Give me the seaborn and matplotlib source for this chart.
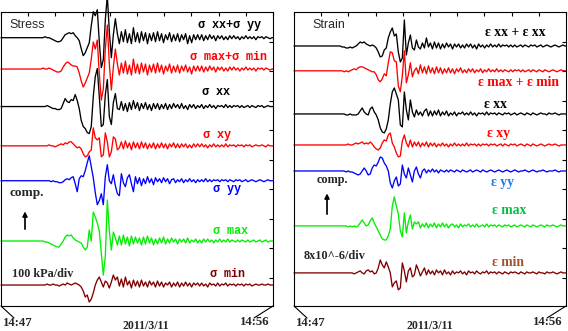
import numpy as np
import pandas as pd
import matplotlib
matplotlib.use("Agg")
import matplotlib.pyplot as plt
import seaborn as sns
from matplotlib.lines import Line2D

sns.set_style("white")
plt.rcParams["font.family"] = ["Liberation Serif", "DejaVu Serif"]

# ---------------- data ----------------
# sample times, minutes after 14:47 on 2011/3/11
minutes = np.r_[0.0, 1.40 + 0.0738 * np.arange(117), 10.0]

# deflections (1 count = 1/29.55 division)
# stress panel: 100 kPa/div
s_xx_yy = [0, 0, 0, 1, 0, 0, -1, -2, -3, -4,
           -4, -3, 0, 3, 4, 5, 4, 5, 2, 0,
           -3, -11, -18, -15, -10, -5, 12, 26, 22, 28,
           -4, -30, -22, 18, 42, 6, -20, 3, 19, 4,
           -6, 6, -4, 8, -5, 4, -6, 10, -4, 5,
           -5, 6, -3, 5, -6, 4, -3, 5, -4, 6,
           -3, 4, -5, 3, -2, 5, -4, 3, -3, 4,
           -4, 3, -2, 4, -6, 2, -5, 3, -2, 3,
           -2, 3, -3, 2, -2, 3, -1, 2, -3, 2,
           -1, 2, -2, 1, -2, 2, -1, 2, -1, 1,
           -2, 1, -1, 2, -1, 1, -1, 1, -2, 1,
           0, 1, -1, 1, 0, -1, 0]
s_max_min = [0, 0, 1, 0, 0, 1, 0, -1, -2, -3,
             -3, -2, 2, 5, 7, 6, 4, 3, 3, 2,
             -4, -12, -18, -14, -9, -4, 10, 27, 20, 29,
             -5, -31, -20, 20, 44, 5, -21, 2, 20, 5,
             -6, 6, -4, 8, -5, 4, -6, 10, -4, 5,
             -5, 6, -3, 5, -6, 4, -3, 5, -4, 6,
             -3, 4, -5, 3, -2, 5, -4, 3, -3, 4,
             -4, 3, -2, 4, -3, 2, -5, 3, -2, 3,
             -2, 3, -3, 2, -2, 3, -1, 2, -3, 2,
             -1, 2, -2, 1, -2, 2, -1, 2, -1, 1,
             -2, 1, -1, 2, -1, 1, -1, 1, -2, 1,
             0, 1, -1, 1, 0, -1, 0]
s_xx = [0, 0, 0, 0, 1, 0, -1, -2, -2, -3,
        -3, -2, 3, 8, 5, 4, 7, 6, 12, 6,
        -2, -14, -20, -22, -26, -27, -20, 10, 30, 38,
        10, -20, -18, 12, 27, -10, -18, 4, 13, -2,
        -3, 5, -4, 3, -5, 4, -3, 6, -2, 4,
        -4, 3, -2, 4, -3, 2, -4, 3, -2, 3,
        -3, 2, -2, 3, -3, 2, -2, 3, -1, 2,
        -2, 3, -2, 1, -3, 2, -1, 2, -2, 1,
        -1, 2, -2, 1, -1, 2, -1, 1, -2, 1,
        0, 1, -1, 2, -1, 1, -1, 1, 0, 1,
        -1, 1, -1, 0, 1, -1, 1, 0, -1, 1,
        0, 1, -1, 0, 1, 0, 0]
s_xy = [0, 0, 0, 0, 0, 1, 0, 0, -1, 0,
        1, 2, 1, 3, 2, 4, 4, 2, 0, -2,
        -1, -3, -8, -11, -10, -6, -4, 18, 8, 6,
        8, -11, -9, 13, 4, -11, -6, 9, 7, -4,
        -2, 4, -3, 5, -2, 3, -4, 4, -2, 3,
        -3, 4, -2, 3, -3, 2, -2, 3, -3, 2,
        -2, 3, -2, 2, -3, 2, -1, 3, -2, 2,
        -2, 2, -1, 2, -2, 1, -2, 2, -1, 2,
        -1, 2, -1, 1, -2, 1, -1, 2, -1, 1,
        -1, 1, -1, 2, -1, 1, 0, 1, -1, 1,
        0, 1, -1, 1, 0, 1, -1, 0, 1, 0,
        0, 1, 0, -1, 1, 0, 0]
s_yy = [0, 0, 0, 0, 0, 0, -1, 0, -1, -1,
        -2, -2, -1, 1, 2, 1, 3, 4, -3, -11,
        2, 5, 4, 10, 18, 25, 14, 3, -12, -24,
        -20, -13, -24, 4, 16, 0, -3, 6, -5, -13,
        -15, 7, -2, -6, 3, 6, -3, -11, 4, -3,
        3, -5, 2, -3, 4, -2, 2, -4, 3, -1,
        2, -2, 3, -1, 2, -3, 1, 2, -2, 1,
        -1, 2, -2, 1, -1, 2, -1, 1, -2, 1,
        -1, 1, -1, 2, -1, 1, -1, 1, 0, 1,
        -1, 1, 0, 1, -1, 1, 0, -1, 1, 0,
        1, -1, 0, 1, -1, 0, 1, 0, -1, 0,
        1, 0, -1, 0, 1, 0, 0]
s_max = [0, 0, 0, -1, -1, -2, -3, -4, -5, -6,
         -6, -3, 0, 4, 6, 5, 6, 3, 1, 0,
         -1, -2, -6, -9, -6, 11, 0, 29, 24, 18,
         10, -12, -34, -15, 41, 10, -9, 9, 3, -4,
         5, -4, 6, -3, 4, -5, 5, -3, 4, -2,
         3, -4, 4, -3, 5, -2, 3, -4, 2, -3,
         3, -2, 4, -3, 2, -2, 3, -1, 2, -3,
         2, -1, 2, -2, 3, -2, 1, -1, 2, -2,
         1, -2, 2, -1, 2, -1, 1, -2, 1, -1,
         2, -1, 1, -1, 2, -1, 1, 0, -1, 1,
         -1, 1, 0, -1, 1, -1, 0, 1, -1, 0,
         1, -1, 0, 1, -1, 0, 0]
s_min = [0, 0, 0, 0, 1, 0, 0, 1, 0, 0,
         -1, 0, 1, 0, 2, 1, 0, 1, 2, 1,
         0, -2, -6, -12, -10, -17, -14, -8, 0, 5,
         8, 3, -2, 4, 2, -3, 3, 10, 5, 8,
         -1, 6, -2, 8, 0, 4, -3, 5, -1, 4,
         -2, 5, -1, 3, -2, 4, 0, 3, -2, 4,
         -1, 3, -2, 2, 0, 3, -2, 2, -1, 3,
         -2, 2, -1, 3, -1, 2, -2, 2, 0, 2,
         -1, 2, -1, 1, -2, 2, 0, 1, -1, 2,
         -1, 1, 0, 2, -1, 1, 0, 1, -1, 1,
         0, 1, -1, 1, 0, 1, -1, 0, 1, 0,
         0, 1, 0, 0, 1, 0, 0]

# strain panel: 8x10^-6 /div
e_xx_yy = [0, 0, 0, 0, 0, -1, -1, -2, -2, -1,
           -2, -1, 0, 2, 4, 3, 4, 2, 1, 0,
           1, 0, -2, -6, -11, -10, -4, -2, 8, 14,
           18, 10, 12, -6, -16, -12, 26, -9, 3, 11,
           -2, -4, 6, -1, -3, 3, -2, 8, -1, 3,
           -3, 4, -2, 3, -3, 2, -2, 3, -1, 2,
           -3, 2, -1, 2, -2, 1, -2, 2, -1, 2,
           -2, 1, -3, 2, -1, 1, -2, 1, -1, 2,
           -1, 1, -1, 2, -1, 1, 0, 1, -1, 1,
           -1, 1, -1, 0, 1, -1, 1, 0, -1, 1,
           0, 1, -1, 0, 1, -1, 0, 1, 0, -1,
           0, 1, 0, -1, 0, 1, 0]
e_max_min = [0, 0, 0, 0, 0, 0, -1, 0, -1, 0,
             1, 2, 1, 3, 4, 4, 3, 2, 1, 0,
             -1, -1, -4, -9, -11, -8, -3, -5, 8, 19,
             18, 10, 9, -15, -21, -5, 20, -12, -4, 8,
             -6, 0, 3, -3, 6, -2, 4, -3, 5, -2,
             3, -3, 4, -2, 3, -3, 2, -2, 3, -2,
             2, -3, 2, -1, 3, -2, 1, -2, 2, -1,
             2, -2, 1, -1, 2, -2, 1, -1, 2, -1,
             1, -1, 2, -1, 1, -1, 1, 0, -1, 1,
             -1, 1, 0, 1, -1, 1, -1, 0, 1, -1,
             1, 0, -1, 1, 0, -1, 1, 0, -1, 0,
             1, 0, -1, 0, 1, 0, 0]
e_xx = [0, 0, 0, 0, 0, 0, 0, -1, -1, 0,
        -1, -1, -1, 0, 3, 6, 2, 0, -1, 5,
        7, 2, -1, -6, -14, -18, -19, -15, -6, 10,
        22, 26, 20, 14, -11, -13, 22, 4, -6, 14,
        2, -3, 4, -1, 2, -2, 3, 5, -2, 3,
        -2, 3, -1, 4, -2, 2, -1, 3, -2, 1,
        -1, 2, -2, 1, 0, 2, -1, 1, -1, 2,
        -1, 1, -2, 1, 0, 1, -1, 2, -1, 1,
        0, 1, -1, 1, 0, -1, 1, 0, 1, -1,
        0, 1, -1, 0, 1, 0, -1, 1, 0, -1,
        1, 0, -1, 0, 1, 0, 0, -1, 1, 0,
        0, 1, 0, -1, 0, 0, 0]
e_xy = [0, 0, 0, 0, 0, 0, 0, 0, 1, 0,
        0, 1, 2, 1, 2, 3, 1, 2, 1, 3,
        1, -2, -4, -5, -3, 2, 5, 4, 10, 12,
        2, -2, -8, -12, -11, 4, 10, 2, -2, 5,
        -2, 3, -1, 3, -2, 2, -1, 3, -2, 2,
        -1, 2, -2, 1, -1, 2, -1, 1, -2, 1,
        -1, 2, -1, 1, -1, 1, -1, 2, -1, 1,
        0, 1, -1, 1, -1, 1, 0, 1, -1, 1,
        0, 1, -1, 0, 1, -1, 1, 0, -1, 1,
        0, 1, -1, 0, 1, 0, -1, 1, 0, -1,
        1, 0, -1, 0, 1, 0, -1, 0, 1, 0,
        0, 1, 0, -1, 0, 0, 0]
e_yy = [0, 0, 0, 0, 0, 0, 0, -1, 0, -1,
        -1, -2, -3, -4, -3, 0, 3, 0, -4, -3,
        3, 6, 5, 9, 14, 13, 8, 5, 0, -12,
        -17, -10, -6, -15, -13, 6, -3, -7, 3, -4,
        -11, 0, 4, -3, -7, 0, 2, -2, 1, -1,
        2, -1, 1, -2, 1, 0, -1, 1, -1, 1,
        0, -1, 1, 0, -1, 1, 0, -1, 0, 1,
        -1, 0, 1, 0, -1, 1, 0, -1, 0, 1,
        0, -1, 0, 1, 0, -1, 0, 1, 0, -1,
        0, 1, 0, -1, 0, 0, 1, 0, -1, 0,
        1, 0, -1, 0, 0, 1, 0, -1, 0, 0,
        0, 1, 0, -1, 0, 0, 0]
e_max = [0, 0, 0, 0, 0, 0, 0, 0, -1, 0,
         -1, 0, -1, 0, 3, 6, 3, 0, 1, 5,
         8, 3, -1, -5, -9, -13, -14, -14, -10, -3,
         20, 29, 20, 12, -5, -11, 13, -7, 4, 11,
         -3, 4, 2, 4, -2, 2, -1, 3, -2, 2,
         -1, 3, -2, 2, -1, 3, -1, 2, -2, 1,
         2, -1, 1, -2, 2, -1, 1, 0, 2, -1,
         1, -1, 2, -1, 0, 1, -1, 2, -1, 1,
         0, 1, -1, 1, 0, -1, 1, 0, 1, -1,
         0, 1, -1, 0, 1, 0, -1, 1, 0, -1,
         1, 0, -1, 0, 1, 0, -1, 1, 0, 0,
         1, 0, -1, 0, 1, 0, 0]
e_min = [0, 0, 0, 0, 0, 0, 0, 0, 0, 0,
         0, -1, 0, 1, 2, 0, -1, 2, 3, 1,
         2, -1, 0, 5, 13, 8, 5, 11, 6, 0,
         -14, -10, -8, -17, -15, 10, 2, -9, 2, 5,
         -4, -2, 8, 3, -3, 1, 5, -2, 3, -1,
         2, -2, 3, 0, 2, -2, 3, -1, 1, -2,
         2, -1, 1, 0, 2, -1, 1, -2, 2, 0,
         1, -1, 2, 0, -1, 1, 0, 2, -1, 1,
         0, 1, -1, 1, 0, -1, 1, 0, -1, 1,
         0, 1, 0, -1, 1, 0, -1, 1, 0, 0,
         1, 0, -1, 1, 0, 0, -1, 1, 0, 0,
         1, 0, -1, 0, 1, 0, 0]

stress_names = ["σ xx+σ yy", "σ max+σ min", "σ xx", "σ xy", "σ yy", "σ max", "σ min"]
strain_names = ["ε xx + ε xx", "ε max + ε min", "ε xx", "ε xy", "ε yy", "ε max", "ε min"]
stress_series = [s_xx_yy, s_max_min, s_xx, s_xy, s_yy, s_max, s_min]
strain_series = [e_xx_yy, e_max_min, e_xx, e_xy, e_yy, e_max, e_min]

# ---------------- layout / style ----------------
W, H = 568, 331
COUNT = 1 / 29.55                     # divisions per count
stress_base = [8.13, 7.07, 5.80, 4.47, 3.29, 1.25, -0.24]
strain_base = [7.85, 7.01, 5.55, 4.50, 3.62, 1.76, 0.17]
stress_colors = ["#000000", "#ff0000", "#000000", "#ff0000", "#0000ff", "#00ee00", "#800000"]
strain_colors = ["#000000", "#ff0000", "#000000", "#ff0000", "#0000ff", "#00ee00", "#800000"]

fig = plt.figure(figsize=(W / 100, H / 100), dpi=100)
ax1 = fig.add_axes([1 / W, 25 / H, 272 / W, 294 / H])
ax2 = fig.add_axes([294 / W, 25 / H, 272 / W, 294 / H])


def draw_panel(ax, names, series, bases, colors):
    frames = []
    for name, vals, base in zip(names, series, bases):
        assert len(vals) == len(minutes) - 2, (name, len(vals))
        v = np.r_[0, vals, vals[-1]]
        frames.append(pd.DataFrame({"minutes": minutes, "y": base + v * COUNT, "trace": name}))
    df = pd.concat(frames, ignore_index=True)
    sns.lineplot(data=df, x="minutes", y="y", hue="trace", hue_order=names,
                 palette=dict(zip(names, colors)), estimator=None, sort=False,
                 legend=False, ax=ax, lw=0.95)
    for ln in ax.lines:
        ln.set_clip_on(False)
    ax.set_xlim(0, 10)
    ax.set_ylim(-0.95, 9.0)
    ax.set_xticks(range(0, 11))
    ax.set_yticks(range(0, 9))
    ax.tick_params(direction="in", top=True, right=True, length=3, width=0.8,
                   labelbottom=False, labelleft=False, color="black")
    ax.set_xlabel("")
    ax.set_ylabel("")
    for s in ax.spines.values():
        s.set_color("black")
        s.set_linewidth(0.8)


draw_panel(ax1, stress_names, stress_series, stress_base, stress_colors)
draw_panel(ax2, strain_names, strain_series, strain_base, strain_colors)


def ptext(x, y, s, **kw):
    kw.setdefault("va", "center")
    fig.text(x / W, 1 - y / H, s, **kw)


mono = ["Liberation Mono", "DejaVu Sans Mono"]
serif = ["Liberation Serif", "DejaVu Serif"]

# stress labels
ptext(9, 25, "Stress", family=["Liberation Sans", "DejaVu Sans"], fontsize=8.9)
stress_lab = [(198, 25), (190, 57), (202, 92), (203, 135), (213, 189), (213, 231), (210, 274)]
for (x, y), name, c in zip(stress_lab, stress_names, stress_colors):
    ptext(x, y, name, family=mono, fontweight="bold", fontsize=8.5, color=c)
ptext(10, 193, "comp.", family=serif, fontweight="bold", fontsize=9.5)
ptext(12, 274, "100 kPa/div", family=serif, fontweight="bold", fontsize=8.7)

# strain labels
ptext(312, 25, "Strain", family=["Liberation Sans", "DejaVu Sans"], fontsize=8.9)
strain_lab = [(485, 33), (478, 83), (484, 104), (487, 133), (491, 183), (492, 211), (492, 263)]
strain_lab_colors = ["#000000", "#ff0000", "#000000", "#ff0000", "#1f78e6", "#00c040", "#a0522d"]
for (x, y), name, c in zip(strain_lab, strain_names, strain_lab_colors):
    ptext(x, y, name, family=serif, fontweight="bold", fontsize=9.8, color=c)
ptext(317, 180, "comp.", family=serif, fontweight="bold", fontsize=8.8)
ptext(304, 256, "8x10^-6/div", family=serif, fontweight="bold", fontsize=8.8)

# compression arrows
for ax_x, y0, y1 in [(25, 232, 209), (327, 217, 191)]:
    fig.add_artist(plt.annotate("", xy=(ax_x / W, 1 - y1 / H), xytext=(ax_x / W, 1 - y0 / H),
                                xycoords="figure fraction", textcoords="figure fraction",
                                arrowprops=dict(arrowstyle="-|>", color="black", lw=0.9,
                                                mutation_scale=7)))

# time labels with leader lines
for left, right, mid in [(1, 273, 146), (294, 566, 430)]:
    fig.add_artist(Line2D([left / W, (left + 13) / W], [1 - 306 / H, 1 - 318 / H],
                          transform=fig.transFigure, color="black", lw=0.8))
    fig.add_artist(Line2D([right / W, (right - 19) / W], [1 - 306 / H, 1 - 318 / H],
                          transform=fig.transFigure, color="black", lw=0.8))
    ptext(left + 2, 323.5, "14:47", family=serif, fontweight="bold", fontsize=9.2, ha="left")
    ptext(mid, 326, "2011/3/11", family=serif, fontweight="bold", fontsize=8.6, ha="center")
    ptext(right - 3, 322, "14:56", family=serif, fontweight="bold", fontsize=9.2, ha="right")

fig.savefig("out.png", dpi=100, facecolor="white")
